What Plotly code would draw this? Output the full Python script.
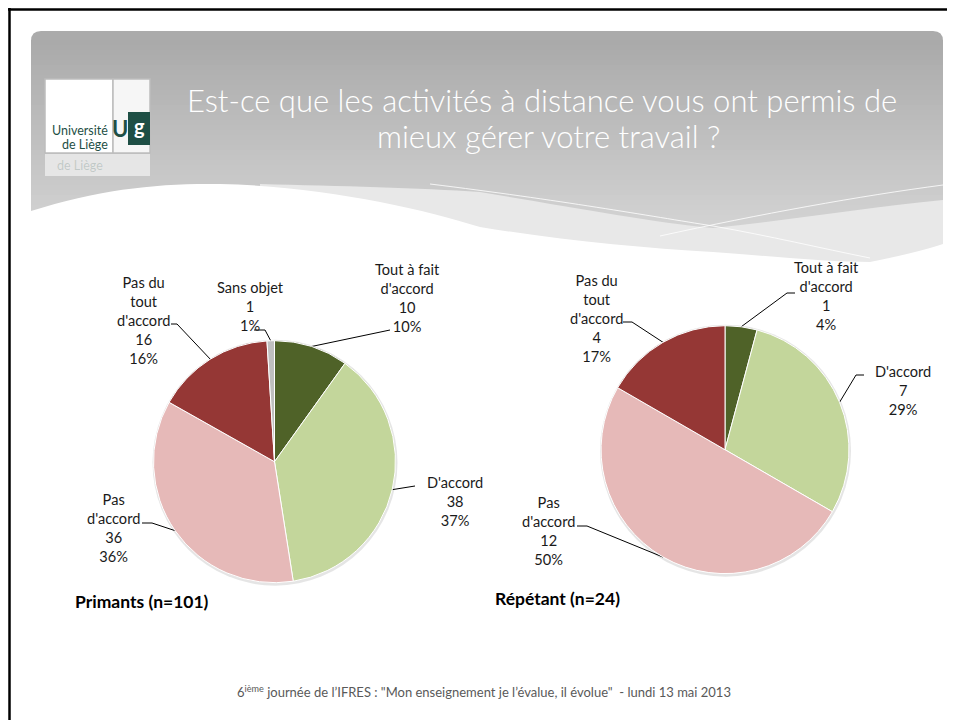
import math

import plotly.graph_objects as go

# The page puts the figure 8px in from the top-left corner, so the figure is
# 8px smaller than the window and the axes start at 8: coordinates below are
# in window pixels.
W, H = 955, 720
OFF = 8

# ---- data -------------------------------------------------------------
answers = ["Tout à fait d'accord", "D'accord", "Pas d'accord", "Pas du tout d'accord", "Sans objet"]
answer_colors = ["#4F6228", "#C3D69B", "#E6B9B8", "#953735", "#BFBFBF"]

primants_values = [10, 38, 36, 16, 1]
primants_pct = ["10%", "37%", "36%", "16%", "1%"]

repetant_values = [1, 7, 12, 4]
repetant_pct = ["4%", "29%", "50%", "17%"]

label_text = {
    "Tout à fait d'accord": "Tout à fait<br>d'accord",
    "D'accord": "D'accord",
    "Pas d'accord": "Pas<br>d'accord",
    "Pas du tout d'accord": "Pas du<br>tout<br>d'accord",
    "Sans objet": "Sans objet",
}

title_lines = ["Est-ce que les activités à distance vous ont permis de", "mieux gérer votre travail ?"]
footer = ("6<sup>ième</sup> journée de l’IFRES : \"Mon enseignement je l’évalue, il évolue\"  "
          "- lundi 13 mai 2013")

# ---- layout (window pixels) ----------------------------------------
LABEL_FONT = dict(family="Lato, Liberation Sans, sans-serif", size=14.6, color="#1a1a1a")

pies = [
    dict(name="Primants (n=101)", values=primants_values, pct=primants_pct,
         cx=274.5, cy=461.7, r=121, caption=(142, 601),
         # text centre, elbow, end of short horizontal tick
         labels=[((407, 298), (390, 330), (390, 330)),
                 ((455, 501), (415, 486), (415, 486)),
                 ((113, 528), (152, 523), (142, 523)),
                 ((143, 320), (177, 324), (171, 324)),
                 ((250, 306), (265, 330), (254, 330))]),
    dict(name="Répétant (n=24)", values=repetant_values, pct=repetant_pct,
         cx=725, cy=449.7, r=124, caption=(557, 598),
         labels=[((826, 296), (787, 293), (795, 293)),
                 ((903, 390), (856, 375), (864, 375)),
                 ((548, 531), (587, 526), (577, 526)),
                 ((596, 318), (632, 322), (623, 322))]),
]


def paper(x, y):
    return (x - OFF) / (W - OFF), 1 - (y - OFF) / (H - OFF)


fig = go.Figure()
lead_x, lead_y = [], []
annotations = []
shapes = []

for p in pies:
    n = len(p["values"])
    cx, cy, r = p["cx"], p["cy"], p["r"]
    x0, y1 = paper(cx - r, cy - r)
    x1, y0 = paper(cx + r, cy + r)
    # soft shadow under the pie
    shapes.append(dict(type="circle", layer="below", x0=cx - r - 1, x1=cx + r + 2,
                       y0=cy - r - 1, y1=cy + r + 3, line=dict(width=0),
                       fillcolor="rgba(0,0,0,0.10)"))
    fig.add_trace(go.Pie(
        labels=answers[:n], values=p["values"], sort=False, direction="clockwise",
        rotation=0, textinfo="none", hoverinfo="skip", showlegend=False,
        marker=dict(colors=answer_colors[:n], line=dict(color="white", width=1)),
        domain=dict(x=[x0, x1], y=[y0, y1]),
    ))
    total = sum(p["values"])
    cum = 0
    for i, v in enumerate(p["values"]):
        mid = (cum + v / 2) / total * 2 * math.pi
        cum += v
        ex, ey = cx + r * math.sin(mid), cy - r * math.cos(mid)
        (tx, ty), (bx, by), (hx, hy) = p["labels"][i]
        lead_x += [ex, bx, hx, None]
        lead_y += [ey, by, hy, None]
        annotations.append(dict(
            x=tx, y=ty, xref="x", yref="y", showarrow=False, align="center",
            text=f"{label_text[answers[i]]}<br>{v}<br>{p['pct'][i]}", font=LABEL_FONT,
        ))
    annotations.append(dict(
        x=p["caption"][0], y=p["caption"][1], xref="x", yref="y", showarrow=False,
        text=f"<b>{p['name']}</b>",
        font=dict(family="Lato, sans-serif", size=17.5, color="#000000"),
    ))

fig.add_trace(go.Scatter(x=lead_x, y=lead_y, mode="lines", hoverinfo="skip",
                         showlegend=False, line=dict(color="#000000", width=1)))

# ---- header band ----------------------------------------------------
shapes.append(dict(type="path", layer="below", line=dict(width=0), fillcolor="#ABABAB",
                   path="M 31,41 Q 31,31 41,31 L 933,31 Q 943,31 943,41 L 943,262 L 31,262 Z"))
top, bottom = (170, 170, 170), (218, 218, 218)
steps = 44
for k in range(steps):
    t = k / (steps - 1)
    c = tuple(round(a + (b - a) * t) for a, b in zip(top, bottom))
    ya = 40 + k * 5
    shapes.append(dict(type="rect", layer="below", x0=31, x1=943, y0=ya, y1=ya + 5.5,
                       line=dict(width=0), fillcolor="rgb(%d,%d,%d)" % c))
shapes.append(dict(type="path", layer="below", line=dict(width=0), fillcolor="#E8E8E8",
                   path="M 260,184 C 340,186 420,188 480,192 C 560,205 650,222 713,228 "
                        "C 790,220 870,207 943,200 L 943,268 L 260,268 Z"))
shapes.append(dict(type="path", layer="below", line=dict(width=0), fillcolor="#FFFFFF",
                   path="M 31,211 C 100,189 160,183 220,184 C 320,186 420,208 480,227 "
                        "C 560,240 640,248 713,252 C 780,257 830,262 870,262 "
                        "C 900,256 925,250 943,244 L 943,275 L 31,275 Z"))
shapes.append(dict(type="path", layer="below", line=dict(color="rgba(255,255,255,0.8)", width=1),
                   path="M 430,184 C 560,200 650,216 713,226 C 770,236 820,248 870,258"))
shapes.append(dict(type="path", layer="below", line=dict(color="rgba(255,255,255,0.8)", width=1),
                   path="M 660,236 C 760,214 860,196 943,185"))

# ---- logo -----------------------------------------------------------
LOGO_GREEN = "#1E4F45"
shapes += [
    dict(type="rect", layer="below", x0=45, x1=150, y0=154, y1=176,
         line=dict(width=0), fillcolor="rgba(240,240,240,0.75)"),
    dict(type="rect", layer="below", x0=45, x1=113, y0=79, y1=153,
         line=dict(color="#BDBDBD", width=1.5), fillcolor="#FFFFFF"),
    dict(type="rect", layer="below", x0=113, x1=150, y0=79, y1=153,
         line=dict(color="#BDBDBD", width=1.5), fillcolor="#F6F6F6"),
    dict(type="rect", layer="below", x0=128, x1=150, y0=112, y1=145,
         line=dict(width=0), fillcolor=LOGO_GREEN),
]
annotations += [
    dict(x=110, y=130, xref="x", yref="y", xanchor="right", showarrow=False, text="Université",
         font=dict(family="Lato, sans-serif", size=12.5, color=LOGO_GREEN)),
    dict(x=110, y=144, xref="x", yref="y", xanchor="right", showarrow=False, text="de Liège",
         font=dict(family="Lato, sans-serif", size=12.5, color=LOGO_GREEN)),
    dict(x=120, y=128, xref="x", yref="y", showarrow=False, text="<b>U</b>",
         font=dict(family="Lato, sans-serif", size=22, color=LOGO_GREEN)),
    dict(x=139, y=126, xref="x", yref="y", showarrow=False, text="<b>g</b>",
         font=dict(family="Lato, sans-serif", size=20, color="#FFFFFF")),
    dict(x=80, y=165, xref="x", yref="y", showarrow=False, text="de Liège",
         font=dict(family="Lato, sans-serif", size=12.5, color="rgba(30,79,69,0.2)")),
]

# ---- slide frame ----------------------------------------------------
shapes.append(dict(type="line", layer="above", x0=8, x1=W, y0=9.5, y1=9.5,
                   line=dict(color="#000000", width=2.5)))
shapes.append(dict(type="line", layer="above", x0=9.5, x1=9.5, y0=8, y1=H,
                   line=dict(color="#000000", width=2.5)))

# ---- title / footer -------------------------------------------------
annotations += [
    dict(x=542, y=100, xref="x", yref="y", showarrow=False, text=title_lines[0],
         font=dict(family="Lato, sans-serif", size=31, color="#FFFFFF", weight=300)),
    dict(x=548, y=136, xref="x", yref="y", showarrow=False, text=title_lines[1],
         font=dict(family="Lato, sans-serif", size=31, color="#FFFFFF", weight=300)),
    dict(x=484, y=691, xref="x", yref="y", showarrow=False, text=footer,
         font=dict(family="Lato, sans-serif", size=13, color="#595959")),
]

fig.update_layout(
    width=W - OFF, height=H - OFF, margin=dict(l=0, r=0, t=0, b=0),
    paper_bgcolor="white", plot_bgcolor="white",
    xaxis=dict(range=[OFF, W], visible=False, fixedrange=True),
    yaxis=dict(range=[H, OFF], visible=False, fixedrange=True),
    shapes=shapes, annotations=annotations, showlegend=False,
)

fig.write_html("out.html")
